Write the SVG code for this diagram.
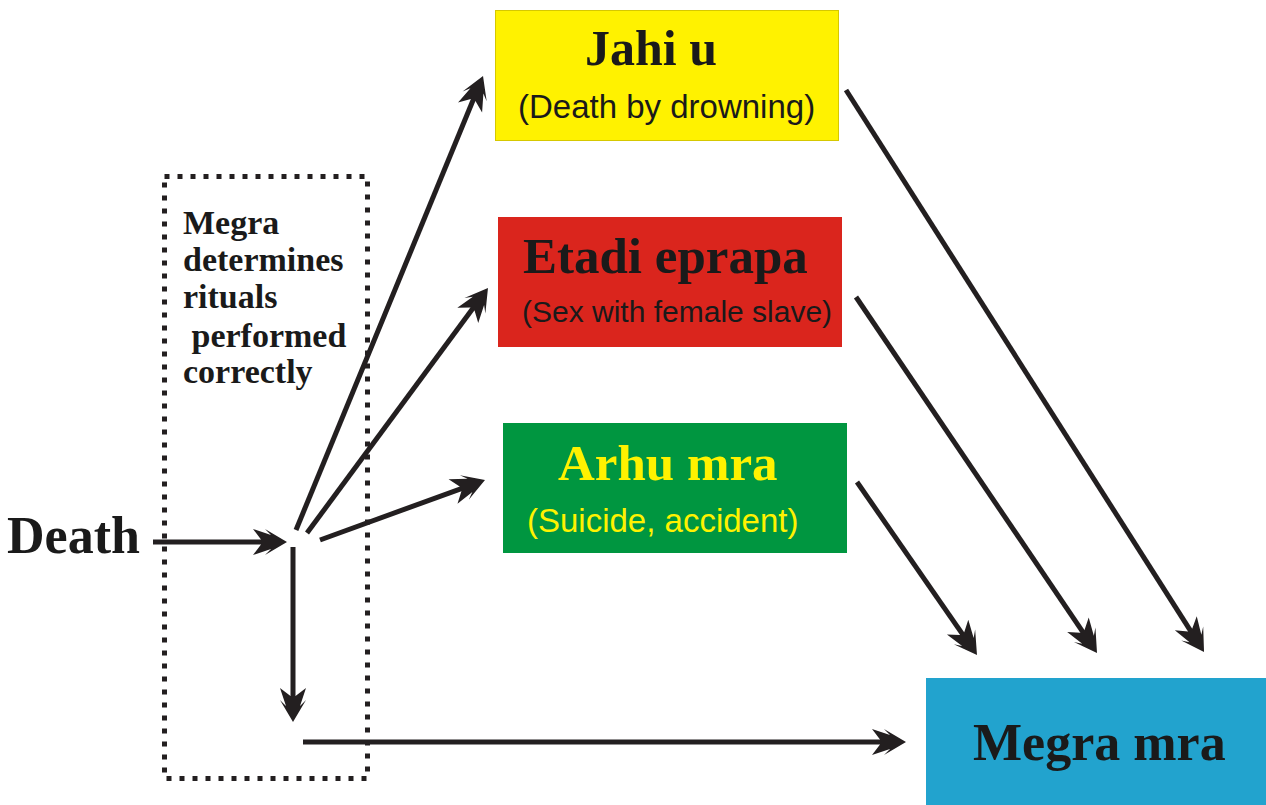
<svg xmlns="http://www.w3.org/2000/svg" width="1266" height="805" viewBox="0 0 1266 805">
<style>
.serif{font-family:"Liberation Serif","Times New Roman",serif;font-weight:bold;}
.sans{font-family:"Liberation Sans",Arial,sans-serif;}
.conn{stroke:#231f20;stroke-width:5;fill:none;marker-end:url(#ah);}
</style>
<defs>
<marker id="ah" markerUnits="userSpaceOnUse" orient="auto" refX="0" refY="0" markerWidth="40" markerHeight="30" overflow="visible">
<path d="M20,0 L-2,-13 L4,-7 L-14,-13 L-6,-2.5 L-6,2.5 L-14,13 L4,7 L-2,13 Z" fill="#231f20"/>
</marker>
</defs>
<rect width="1266" height="805" fill="#ffffff"/>
<g id="ritual-box">
<rect x="164.5" y="176.5" width="203" height="602" fill="none" stroke="#231f20" stroke-width="5" stroke-dasharray="5 8"/>
<text class="serif" font-size="34" fill="#1a1a1a"><tspan x="183" y="234">Megra</tspan><tspan x="183" y="271">determines</tspan><tspan x="183" y="308">rituals</tspan><tspan x="183" y="347"> performed</tspan><tspan x="183" y="383">correctly</tspan></text>
</g>
<g id="death">
<text class="serif" x="7" y="553" font-size="52" fill="#1a1a1a">Death</text>
</g>
<g id="jahi-u">
<rect x="495.5" y="10.5" width="343" height="130" fill="#fff200" stroke="#d6c800" stroke-width="1"/>
<text class="serif" x="585" y="65" font-size="50" fill="#1a1a1a">Jahi u</text>
<text class="sans" x="518" y="118" font-size="33" fill="#1a1a1a">(Death by drowning)</text>
</g>
<g id="etadi-eprapa">
<rect x="498" y="217" width="344" height="130" fill="#da251d"/>
<text class="serif" x="523" y="273" font-size="51" fill="#1a1a1a">Etadi eprapa</text>
<text class="sans" x="522" y="322" font-size="30" fill="#1a1a1a">(Sex with female slave)</text>
</g>
<g id="arhu-mra">
<rect x="503" y="423" width="344" height="130" fill="#009640"/>
<text class="serif" x="558" y="480" font-size="51" fill="#fff200">Arhu mra</text>
<text class="sans" x="527" y="532" font-size="33" fill="#fff200">(Suicide, accident)</text>
</g>
<g id="megra-mra">
<rect x="926" y="678" width="340" height="127" fill="#22a3ce"/>
<text class="serif" x="973" y="760" font-size="52" fill="#1a1a1a">Megra mra</text>
</g>
<g id="connectors">
<line class="conn" x1="153" y1="542" x2="267" y2="542"/>
<line class="conn" x1="293" y1="547" x2="293" y2="702"/>
<line class="conn" x1="303" y1="742" x2="886" y2="742"/>
<line class="conn" x1="296" y1="530" x2="475.4" y2="94.5"/>
<line class="conn" x1="307" y1="533" x2="476.1" y2="304.1"/>
<line class="conn" x1="320" y1="540" x2="466.2" y2="486.8"/>
<line class="conn" x1="846" y1="90" x2="1193.3" y2="635.1"/>
<line class="conn" x1="856" y1="297" x2="1085.8" y2="636.4"/>
<line class="conn" x1="857" y1="482" x2="965.6" y2="638.6"/>
</g>
</svg>
